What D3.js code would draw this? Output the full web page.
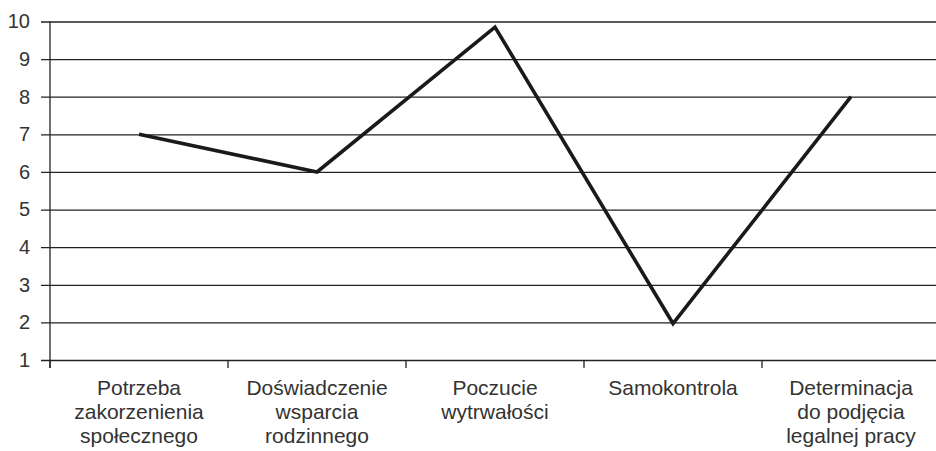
<!DOCTYPE html>
<html><head><meta charset="utf-8">
<script src="https://cdn.jsdelivr.net/npm/d3@7"></script>
<style>body{margin:0;background:#fff}svg{display:block}</style>
</head><body>
<script>
const categories = [
  ["Potrzeba","zakorzenienia","społecznego"],
  ["Doświadczenie","wsparcia","rodzinnego"],
  ["Poczucie","wytrwałości"],
  ["Samokontrola"],
  ["Determinacja","do podjęcia","legalnej pracy"]
];
const values = [7, 6, 9.85, 1.97, 8];
const yTicks = [1,2,3,4,5,6,7,8,9,10];

const W = 936, H = 451;
const svg = d3.select("body").append("svg").attr("width", W).attr("height", H);
const x = d3.scaleBand().domain(d3.range(categories.length)).range([50, 940]);
const y = d3.scaleLinear().domain([1, 10]).range([360, 21.5]);
const font = "Liberation Sans, Arial, sans-serif";

// gridlines + y axis
const yAxis = d3.axisLeft(y).tickValues(yTicks).tickSize(-(W - 41)).tickPadding(11).tickFormat(d3.format("d"));
const gy = svg.append("g").attr("transform", "translate(41,0)").call(yAxis);
gy.select(".domain").remove();
gy.selectAll(".tick line").attr("stroke", "#222").attr("stroke-width", 1.3);
gy.selectAll(".tick text").attr("font-family", font).attr("font-size", 20).attr("fill", "#333").attr("x", -11);

// vertical axis line
svg.append("line").attr("x1", 50).attr("x2", 50).attr("y1", y(10)).attr("y2", 368)
  .attr("stroke", "#222").attr("stroke-width", 1.3);

// category ticks
svg.append("g").selectAll("line").data(d3.range(categories.length)).join("line")
  .attr("x1", d => x(d)).attr("x2", d => x(d)).attr("y1", y(1)).attr("y2", 368)
  .attr("stroke", "#222").attr("stroke-width", 1.3);

// category labels
const lbl = svg.append("g").selectAll("text").data(categories).join("text")
  .attr("font-family", font).attr("font-size", 21).attr("fill", "#333").attr("text-anchor", "middle");
lbl.each(function(d, i) {
  d3.select(this).selectAll("tspan").data(d).join("tspan")
    .attr("x", x(i) + x.bandwidth() / 2).attr("y", (t, j) => 395 + j * 24).text(t => t);
});

// line
const line = d3.line().x((d, i) => x(i) + x.bandwidth() / 2).y(d => y(d));
svg.append("path").datum(values).attr("d", line).attr("fill", "none")
  .attr("stroke", "#1a1a1a").attr("stroke-width", 3.6).attr("stroke-linejoin", "miter");
</script>
</body></html>
